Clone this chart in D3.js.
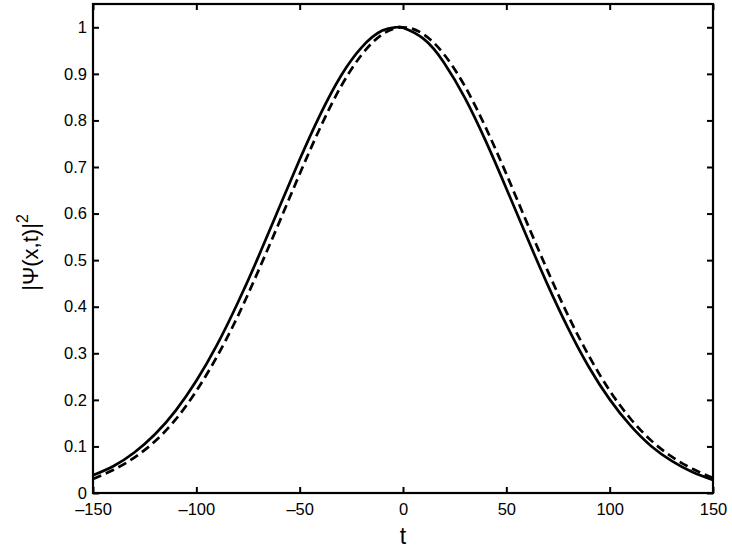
<!DOCTYPE html>
<html>
<head>
<meta charset="utf-8">
<script src="https://cdn.jsdelivr.net/npm/d3@7"></script>
<style>
  body { margin: 0; background: #fff; }
  svg text { font-family: "Liberation Sans", Arial, sans-serif; fill: #000; }
</style>
</head>
<body>
<div id="chart"></div>
<script>
// values
var solidT = [-150, -140, -130, -120, -110, -100, -90, -80, -70, -60, -50, -40, -30, -20, -10, -3, 0, 10, 20, 30, 40, 50, 60, 70, 80, 90, 100, 110, 120, 130, 140, 150];
var solidV = [0.038, 0.058, 0.087, 0.126, 0.177, 0.241, 0.318, 0.408, 0.507, 0.612, 0.716, 0.813, 0.896, 0.957, 0.993, 1.0, 0.999, 0.975, 0.923, 0.848, 0.756, 0.654, 0.549, 0.447, 0.353, 0.270, 0.201, 0.145, 0.101, 0.069, 0.045, 0.028];

var dashT = [-150, -140, -130, -120, -110, -100, -90, -80, -70, -60, -50, -40, -30, -20, -10, 0, 10, 20, 30, 40, 50, 60, 70, 80, 90, 100, 110, 120, 130, 140, 150];
var dashV = [0.030, 0.050, 0.076, 0.111, 0.158, 0.219, 0.293, 0.379, 0.477, 0.580, 0.685, 0.785, 0.873, 0.941, 0.985, 1.0, 0.985, 0.941, 0.873, 0.785, 0.685, 0.580, 0.477, 0.380, 0.294, 0.220, 0.160, 0.113, 0.078, 0.052, 0.032];

var xTicks = [-150, -100, -50, 0, 50, 100, 150];
var xTickLabels = ["\u2013150", "\u2013100", "\u201350", "0", "50", "100", "150"];
var yTicks = [0, 0.1, 0.2, 0.3, 0.4, 0.5, 0.6, 0.7, 0.8, 0.9, 1];
var yTickLabels = ["0", "0.1", "0.2", "0.3", "0.4", "0.5", "0.6", "0.7", "0.8", "0.9", "1"];

var width = 732, height = 550;
var margin = {left: 93, right: 19, top: 4, bottom: 57};
var w = width - margin.left - margin.right;
var h = height - margin.top - margin.bottom;

var svg = d3.select("#chart").append("svg")
    .attr("width", width)
    .attr("height", height);

var g = svg.append("g")
    .attr("transform", "translate(" + margin.left + "," + margin.top + ")");

var x = d3.scaleLinear().domain([-150, 150]).range([0, w]);
var y = d3.scaleLinear().domain([0, 1.05]).range([h, 0]);

// curves
var line = d3.line()
    .x(function (d) { return x(d[0]); })
    .y(function (d) { return y(d[1]); })
    .curve(d3.curveNatural);

g.append("path")
    .datum(d3.zip(solidT, solidV))
    .attr("d", line)
    .attr("fill", "none")
    .attr("stroke", "#000")
    .attr("stroke-width", 2.7);

g.append("path")
    .datum(d3.zip(dashT, dashV))
    .attr("d", line)
    .attr("fill", "none")
    .attr("stroke", "#000")
    .attr("stroke-width", 2.7)
    .attr("stroke-dasharray", "9,5");

// axes, ticks pointing inward like the original
var tickLen = 6;
var xAxis = d3.axisBottom(x).tickValues(xTicks).tickSize(-tickLen).tickPadding(10)
    .tickFormat(function (d, i) { return xTickLabels[i]; });
var yAxis = d3.axisLeft(y).tickValues(yTicks).tickSize(-tickLen).tickPadding(6)
    .tickFormat(function (d, i) { return yTickLabels[i]; });

var gx = g.append("g").attr("transform", "translate(0," + h + ")").call(xAxis);
var gy = g.append("g").call(yAxis);
var gxTop = g.append("g").call(d3.axisTop(x).tickValues(xTicks).tickSize(-tickLen).tickFormat(""));
var gyRight = g.append("g").attr("transform", "translate(" + w + ",0)")
    .call(d3.axisRight(y).tickValues(yTicks).tickSize(-tickLen).tickFormat(""));

[gx, gy, gxTop, gyRight].forEach(function (a) {
    a.select(".domain").remove();
    a.selectAll(".tick line").attr("stroke", "#000").attr("stroke-width", 2);
    a.selectAll("text").style("font-size", "16.5px").attr("fill", "#000");
});

// box
g.append("rect")
    .attr("x", 0).attr("y", 0)
    .attr("width", w).attr("height", h)
    .attr("fill", "none")
    .attr("stroke", "#000")
    .attr("stroke-width", 2.2);

// axis labels
svg.append("text")
    .attr("x", margin.left + w / 2)
    .attr("y", 544)
    .attr("text-anchor", "middle")
    .style("font-size", "23px")
    .text("t");

var yl = svg.append("text")
    .attr("transform", "translate(38," + (margin.top + h / 2 + 4) + ") rotate(-90)")
    .attr("text-anchor", "middle")
    .style("font-size", "22px");
yl.append("tspan").text("|\u03A8(x,t)|");
yl.append("tspan").attr("dy", -10).style("font-size", "16px").text("2");
</script>
</body>
</html>
